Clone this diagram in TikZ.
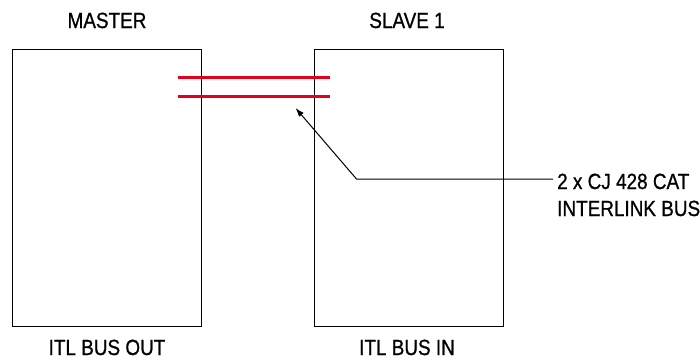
\documentclass[tikz,border=0pt]{standalone}
\usepackage{fontspec}
\setmainfont{Liberation Sans}[FakeStretch=0.86,FakeBold=0.8]
\usetikzlibrary{arrows.meta}
\begin{document}
\begin{tikzpicture}[x=1pt,y=-1pt,
  unitbox/.style={draw=black,line width=1.2pt,minimum width=189pt,minimum height=277pt,inner sep=0pt,anchor=north west},
  lbl/.style={font=\fontsize{22}{27}\selectfont,inner sep=0pt,anchor=base},
  bus/.style={draw={rgb,255:red,226;green,0;blue,26},line width=3pt},
  leader/.style={draw=black,line width=1pt}]
\useasboundingbox (0,0) rectangle (700,360);
\node[unitbox] (master) at (12,48.5) {};
\node[unitbox] (slave) at (313.5,48.5) {};
\node[lbl] (mt) at (107,28) {MASTER};
\node[lbl] (st) at (407,28) {SLAVE 1};
\node[lbl] (mb) at (107,355) {ITL BUS OUT};
\node[lbl] (sb) at (407,355) {ITL BUS IN};
\coordinate (b1a) at (178,77);
\coordinate (b1b) at (330,77);
\coordinate (b2a) at (178,96);
\coordinate (b2b) at (330,96);
\draw[bus] (b1a) -- (b1b);
\draw[bus] (b2a) -- (b2b);
\node[font=\fontsize{22}{27}\selectfont,inner sep=0pt,anchor=base west,align=left] (note) at (557,216) {2 x CJ 428 CAT\\INTERLINK BUS};
\coordinate (tip) at (295.5,108);
\coordinate (bend) at (356.5,179);
\coordinate (lend) at (553,179);
\draw[leader,-{Latex[length=9pt,width=6pt]}] (lend) -- (bend) -- (tip);
\end{tikzpicture}
\end{document}
